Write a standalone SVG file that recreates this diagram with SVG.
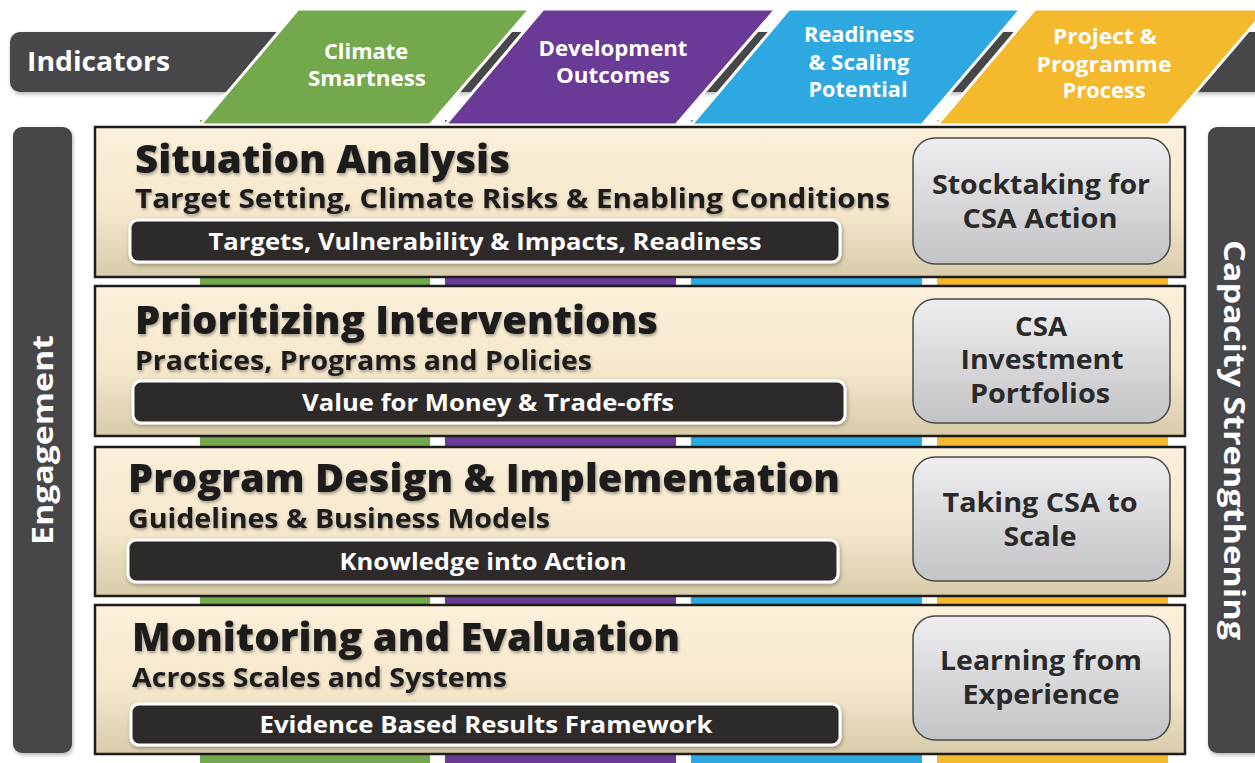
<svg xmlns="http://www.w3.org/2000/svg" width="1255" height="763" viewBox="0 0 1255 763">
  <style>
    text { font-family: "Open Sans", "Noto Sans", "DejaVu Sans", sans-serif; font-weight: bold; }
    .hdr { fill: #ffffff; font-size: 21px; text-anchor: middle; }
    .side { fill: #ffffff; font-size: 29px; text-anchor: middle; }
    .title { fill: #1f1b1b; font-size: 39px; font-weight: 800; filter: url(#txtShadow); }
    .sub { fill: #1f1b1b; font-size: 26px; filter: url(#txtShadow); }
    .barText { fill: #ffffff; font-size: 23px; text-anchor: middle; }
    .boxText { fill: #2a2a2a; font-size: 26px; text-anchor: middle; }
    .darkBand { fill: #464648; }
    .row { fill: url(#rowFill); stroke: #1c1c1c; stroke-width: 2.5; }
    .bar { fill: #2e2b2b; stroke: #ffffff; stroke-width: 3; filter: url(#boxShadow); }
    .box { fill: url(#boxFill); stroke: #4a4a4a; stroke-width: 1.5; }
    .tab { stroke: #ffffff; stroke-width: 3; stroke-linejoin: miter; }
  </style>
  <defs>
    <linearGradient id="rowFill" x1="0" y1="0" x2="0" y2="1">
      <stop offset="0" stop-color="#fbf0da"/>
      <stop offset="0.55" stop-color="#f6e8cc"/>
      <stop offset="1" stop-color="#d8cbaa"/>
    </linearGradient>
    <linearGradient id="boxFill" x1="0" y1="0" x2="0" y2="1">
      <stop offset="0" stop-color="#eeeef0"/>
      <stop offset="1" stop-color="#c3c3c6"/>
    </linearGradient>
    <filter id="txtShadow" x="-5%" y="-30%" width="110%" height="160%">
      <feDropShadow dx="1" dy="2" stdDeviation="1.5" flood-color="#000" flood-opacity="0.35"/>
    </filter>
    <filter id="boxShadow" x="-5%" y="-30%" width="110%" height="160%">
      <feDropShadow dx="1" dy="2" stdDeviation="2" flood-color="#000" flood-opacity="0.3"/>
    </filter>
  </defs>

  <rect width="1255" height="763" fill="#ffffff"/>

  <!-- Indicators header band -->
  <g id="indicators">
    <rect class="darkBand" x="10" y="32" width="1265" height="60" rx="10" filter="url(#boxShadow)"/>
    <text x="27" y="71" fill="#ffffff" font-size="26" font-weight="600" textLength="143" lengthAdjust="spacingAndGlyphs">Indicators</text>
  </g>

  <!-- Vertical indicator columns behind the rows -->
  <g id="column-strips">
    <rect x="200" y="120" width="230" height="643" fill="#74a84d"/>
    <rect x="445" y="120" width="231" height="643" fill="#6a3a97"/>
    <rect x="691" y="120" width="231" height="643" fill="#2ea8e0"/>
    <rect x="937" y="120" width="231" height="643" fill="#f4b92c"/>
  </g>

  <!-- Indicator tabs -->
  <g id="tab-climate">
    <polygon class="tab" points="298,9 530,9 430,125 200,125" fill="#74a84d"/>
    <text class="hdr" x="366" y="59" textLength="84" lengthAdjust="spacingAndGlyphs">Climate</text>
    <text class="hdr" x="367" y="86" textLength="118" lengthAdjust="spacingAndGlyphs">Smartness</text>
  </g>
  <g id="tab-development">
    <polygon class="tab" points="543,9 776,9 676,125 445,125" fill="#6a3a97"/>
    <text class="hdr" x="613" y="56" textLength="149" lengthAdjust="spacingAndGlyphs">Development</text>
    <text class="hdr" x="613" y="83" textLength="114" lengthAdjust="spacingAndGlyphs">Outcomes</text>
  </g>
  <g id="tab-readiness">
    <polygon class="tab" points="789,9 1021,9 922,125 691,125" fill="#2ea8e0"/>
    <text class="hdr" x="859" y="42" textLength="110" lengthAdjust="spacingAndGlyphs">Readiness</text>
    <text class="hdr" x="859" y="70" textLength="101" lengthAdjust="spacingAndGlyphs">&amp; Scaling</text>
    <text class="hdr" x="858" y="97" textLength="99" lengthAdjust="spacingAndGlyphs">Potential</text>
  </g>
  <g id="tab-process">
    <polygon class="tab" points="1035,9 1267,9 1168,125 937,125" fill="#f4b92c"/>
    <text class="hdr" x="1105" y="44" textLength="104" lengthAdjust="spacingAndGlyphs">Project &amp;</text>
    <text class="hdr" x="1104" y="72" textLength="135" lengthAdjust="spacingAndGlyphs">Programme</text>
    <text class="hdr" x="1104" y="98" textLength="83" lengthAdjust="spacingAndGlyphs">Process</text>
  </g>

  <!-- Side bands -->
  <g id="engagement">
    <rect class="darkBand" x="13" y="127" width="59" height="626" rx="9" filter="url(#boxShadow)"/>
    <text class="side" transform="translate(53,440) rotate(-90)" textLength="210" lengthAdjust="spacingAndGlyphs">Engagement</text>
  </g>
  <g id="capacity-strengthening">
    <rect class="darkBand" x="1208" y="127" width="60" height="626" rx="9" filter="url(#boxShadow)"/>
    <text class="side" transform="translate(1224,440) rotate(90)" textLength="400" lengthAdjust="spacingAndGlyphs">Capacity Strengthening</text>
  </g>

  <!-- Row 1 -->
  <g id="situation-analysis">
    <rect class="row" x="95" y="127" width="1090" height="150"/>
    <text class="title" x="135" y="173" textLength="375" lengthAdjust="spacingAndGlyphs">Situation Analysis</text>
    <text class="sub" x="135" y="208" textLength="755" lengthAdjust="spacingAndGlyphs">Target Setting, Climate Risks &amp; Enabling Conditions</text>
    <rect class="bar" x="130" y="220" width="710" height="42" rx="8"/>
    <text class="barText" x="485" y="250" textLength="553" lengthAdjust="spacingAndGlyphs">Targets, Vulnerability &amp; Impacts, Readiness</text>
    <rect class="box" x="913" y="138" width="257" height="126" rx="22"/>
    <text class="boxText" x="1041" y="194" textLength="218" lengthAdjust="spacingAndGlyphs">Stocktaking for</text>
    <text class="boxText" x="1040" y="228" textLength="155" lengthAdjust="spacingAndGlyphs">CSA Action</text>
  </g>

  <!-- Row 2 -->
  <g id="prioritizing-interventions">
    <rect class="row" x="95" y="286" width="1090" height="150"/>
    <text class="title" x="135" y="334" textLength="523" lengthAdjust="spacingAndGlyphs">Prioritizing Interventions</text>
    <text class="sub" x="135" y="370" textLength="457" lengthAdjust="spacingAndGlyphs">Practices, Programs and Policies</text>
    <rect class="bar" x="133" y="381" width="712" height="42" rx="8"/>
    <text class="barText" x="488" y="411" textLength="372" lengthAdjust="spacingAndGlyphs">Value for Money &amp; Trade-offs</text>
    <rect class="box" x="913" y="299" width="257" height="124" rx="22"/>
    <text class="boxText" x="1041" y="336" textLength="52" lengthAdjust="spacingAndGlyphs">CSA</text>
    <text class="boxText" x="1042" y="369" textLength="163" lengthAdjust="spacingAndGlyphs">Investment</text>
    <text class="boxText" x="1040" y="403" textLength="140" lengthAdjust="spacingAndGlyphs">Portfolios</text>
  </g>

  <!-- Row 3 -->
  <g id="program-design">
    <rect class="row" x="95" y="447" width="1090" height="149"/>
    <text class="title" x="128" y="492" textLength="712" lengthAdjust="spacingAndGlyphs">Program Design &amp; Implementation</text>
    <text class="sub" x="128" y="528" textLength="422" lengthAdjust="spacingAndGlyphs">Guidelines &amp; Business Models</text>
    <rect class="bar" x="128" y="540" width="710" height="42" rx="8"/>
    <text class="barText" x="483" y="570" textLength="287" lengthAdjust="spacingAndGlyphs">Knowledge into Action</text>
    <rect class="box" x="913" y="457" width="257" height="124" rx="22"/>
    <text class="boxText" x="1040" y="512" textLength="195" lengthAdjust="spacingAndGlyphs">Taking CSA to</text>
    <text class="boxText" x="1040" y="546" textLength="73" lengthAdjust="spacingAndGlyphs">Scale</text>
  </g>

  <!-- Row 4 -->
  <g id="monitoring-evaluation">
    <rect class="row" x="95" y="605" width="1090" height="149"/>
    <text class="title" x="132" y="651" textLength="548" lengthAdjust="spacingAndGlyphs">Monitoring and Evaluation</text>
    <text class="sub" x="132" y="687" textLength="375" lengthAdjust="spacingAndGlyphs">Across Scales and Systems</text>
    <rect class="bar" x="131" y="704" width="709" height="41" rx="8"/>
    <text class="barText" x="486" y="733" textLength="453" lengthAdjust="spacingAndGlyphs">Evidence Based Results Framework</text>
    <rect class="box" x="913" y="616" width="257" height="124" rx="22"/>
    <text class="boxText" x="1041" y="670" textLength="202" lengthAdjust="spacingAndGlyphs">Learning from</text>
    <text class="boxText" x="1041" y="704" textLength="157" lengthAdjust="spacingAndGlyphs">Experience</text>
  </g>
</svg>
